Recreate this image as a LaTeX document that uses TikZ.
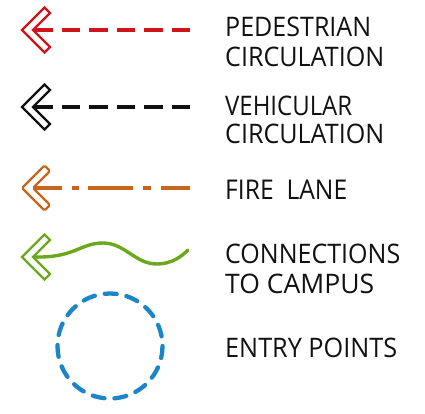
\documentclass[tikz,border=0pt]{standalone}
\usepackage{fontspec}
\setmainfont{Open Sans}
\usepackage{graphicx}
\definecolor{pedred}{HTML}{D0141C}
\definecolor{vehblack}{HTML}{111111}
\definecolor{fireorange}{HTML}{C7661C}
\definecolor{campgreen}{HTML}{6BA81F}
\definecolor{entryblue}{HTML}{1A86C8}
\newcommand\lgtxt[2]{\resizebox{#1}{19.5pt}{#2}}
\tikzset{
  chevron/.pic={\draw[line width=2.3, fill=white, pic actions] (0,0) -- (22.5,-22.5) -- (28,-17) -- (11,0) -- (28,17) -- (22.5,22.5) -- cycle;},
  legline/.style={line width=3.4},
  legtext/.style={anchor=base west, inner sep=0pt, text=vehblack},
}
\begin{document}
\begin{tikzpicture}[x=1pt,y=-1pt]
\useasboundingbox (0,0) rectangle (425,413);
% pedestrian
\pic[draw=pedred] at (22,30) {chevron};
\coordinate (p1) at (34,30); \coordinate (p2) at (190,30);
\draw[legline, pedred, dash pattern=on 18.5 off 9] (p1) -- (p2);
% vehicular
\pic[draw=vehblack] at (22,107) {chevron};
\coordinate (v1) at (34,107); \coordinate (v2) at (190,107);
\draw[legline, vehblack, dash pattern=on 18.5 off 9] (v1) -- (v2);
% fire lane
\pic[draw=fireorange, rounded corners=1.5] at (22,188) {chevron};
\coordinate (f1) at (34,188); \coordinate (f2) at (190,188);
\draw[legline, fireorange, dash pattern=on 28 off 10 on 7 off 9 on 45 off 10 on 8 off 10 on 40] (f1) -- (f2);
% connections
\pic[draw=campgreen] at (22,257) {chevron};
\coordinate (c1) at (34,257); \coordinate (c2) at (188,250);
\draw[legline, campgreen, line cap=round] (c1) .. controls (75,258) and (80,243) .. (103,243) .. controls (125,243) and (135,264) .. (157,264) .. controls (172,264) and (182,256) .. (c2);
% entry points
\coordinate (ec) at (110,346);
\draw[line width=4.3, entryblue, line cap=round, dash pattern=on 12 off 10] (ec) circle[radius=52.5];
% labels
\node[legtext] (t1) at (225,36) {\lgtxt{146pt}{PEDESTRIAN}};
\node[legtext] (t2) at (225,66) {\lgtxt{159pt}{CIRCULATION}};
\node[legtext] (t3) at (225,115) {\lgtxt{127pt}{VEHICULAR}};
\node[legtext] (t4) at (225,143) {\lgtxt{159pt}{CIRCULATION}};
\node[legtext] (t5) at (225,199) {\lgtxt{122pt}{FIRE\ \ LANE}};
\node[legtext] (t6) at (225,263) {\lgtxt{175pt}{CONNECTIONS}};
\node[legtext] (t7) at (225,293) {\lgtxt{149pt}{TO CAMPUS}};
\node[legtext] (t8) at (225,357) {\lgtxt{172pt}{ENTRY POINTS}};
\end{tikzpicture}
\end{document}
